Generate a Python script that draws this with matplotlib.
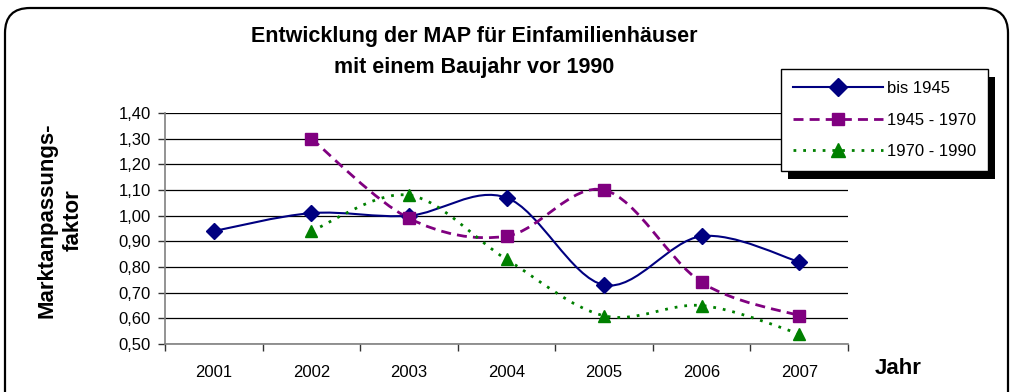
import matplotlib
matplotlib.use("Agg")
import matplotlib.pyplot as plt
from matplotlib.lines import Line2D
from matplotlib.patches import FancyBboxPatch, PathPatch, Rectangle
from matplotlib.path import Path
from matplotlib.transforms import IdentityTransform

plt.rcParams["font.family"] = ["Liberation Sans", "DejaVu Sans"]

years = ["2001", "2002", "2003", "2004", "2005", "2006", "2007"]
bis_1945 = [0.94, 1.01, 1.00, 1.07, 0.73, 0.92, 0.82]
von_1945_1970 = [None, 1.30, 0.99, 0.92, 1.10, 0.74, 0.61]
von_1970_1990 = [None, 0.94, 1.08, 0.83, 0.61, 0.65, 0.54]
y_ticks = [0.50, 0.60, 0.70, 0.80, 0.90, 1.00, 1.10, 1.20, 1.30, 1.40]

# label, values, colour, linestyle, linewidth, marker, markersize
series = [
    ("bis 1945", bis_1945, "#000080", "-", 1.5, "D", 8),
    ("1945 - 1970", von_1945_1970, "#800080", (0, (3.6, 2.2)), 2.0, "s", 8),
    ("1970 - 1990", von_1970_1990, "#008000", (0, (1.0, 2.5)), 2.0, "^", 9),
]


def smooth_path(xs, ys):
    # Catmull-Rom style Bezier segments, like a spreadsheet "smoothed line"
    pts = list(zip(xs, ys))
    verts = [pts[0]]
    codes = [Path.MOVETO]
    n = len(pts)
    for i in range(n - 1):
        p0 = pts[max(i - 1, 0)]
        p1 = pts[i]
        p2 = pts[i + 1]
        p3 = pts[min(i + 2, n - 1)]
        c1 = (p1[0] + (p2[0] - p0[0]) / 6, p1[1] + (p2[1] - p0[1]) / 6)
        c2 = (p2[0] - (p3[0] - p1[0]) / 6, p2[1] - (p3[1] - p1[1]) / 6)
        verts += [c1, c2, p2]
        codes += [Path.CURVE4] * 3
    return Path(verts, codes)


fig = plt.figure(figsize=(10.11, 3.92), dpi=100)
fig.patch.set_facecolor("white")

# rounded frame around the whole chart
frame = FancyBboxPatch((0.05, -0.5), 10.03, 4.34,
                       boxstyle="round,pad=0,rounding_size=0.25",
                       transform=fig.dpi_scale_trans, fill=False,
                       edgecolor="black", linewidth=1.6)
fig.add_artist(frame)

ax = fig.add_axes([0.1632, 0.1224, 0.6756, 0.5893])
ax.set_xlim(-0.5, len(years) - 0.5)
ax.set_ylim(0.50, 1.40)

ax.set_yticks(y_ticks)
ax.set_yticklabels([f"{v:.2f}".replace(".", ",") for v in y_ticks], fontsize=12)
ax.yaxis.grid(True, color="black", linewidth=0.9)
ax.set_axisbelow(True)

ax.set_xticks(range(len(years)))
ax.set_xticklabels(years, fontsize=12)
ax.set_xticks([i - 0.5 for i in range(len(years) + 1)], minor=True)
ax.tick_params(axis="x", which="major", length=0, pad=15)
ax.tick_params(axis="x", which="minor", length=5, width=1, color="#333333", direction="out")
ax.tick_params(axis="y", length=5, width=1, color="#333333", pad=5)

for side in ("top", "right"):
    ax.spines[side].set_visible(False)
for side in ("left", "bottom"):
    ax.spines[side].set_color("#808080")
    ax.spines[side].set_linewidth(1.2)

handles = []
for label, vals, color, ls, lw, marker, ms in series:
    xs = [i for i, v in enumerate(vals) if v is not None]
    ys = [v for v in vals if v is not None]
    ax.add_patch(PathPatch(smooth_path(xs, ys), fill=False, edgecolor=color,
                           linewidth=lw, linestyle=ls, capstyle="butt", zorder=3))
    ax.plot(xs, ys, linestyle="none", marker=marker, markersize=ms,
            color=color, markeredgecolor=color, zorder=4, clip_on=False)
    handles.append(Line2D([], [], color=color, linestyle=ls, linewidth=lw,
                          marker=marker, markersize=ms + 1, markeredgecolor=color))

leg = fig.legend(handles=handles, labels=[s[0] for s in series],
                 loc="upper left", bbox_to_anchor=(0.7725, 0.824, 0.2049, 0.0),
                 mode="expand", frameon=True, fancybox=False, framealpha=1,
                 fontsize=12, handlelength=5.4, handletextpad=0.25,
                 labelspacing=1.0, borderpad=0.72, borderaxespad=0)
leg.get_frame().set_edgecolor("black")
leg.get_frame().set_linewidth(1.0)
leg.set_zorder(6)

fig.text(0.469, 0.908, "Entwicklung der MAP für Einfamilienhäuser",
         ha="center", va="center", fontsize=15.5, fontweight="bold")
fig.text(0.469, 0.827, "mit einem Baujahr vor 1990",
         ha="center", va="center", fontsize=15.5, fontweight="bold")
fig.text(0.0595, 0.439, "Marktanpassungs-\nfaktor", rotation=90,
         ha="center", va="center", fontsize=16, fontweight="bold",
         multialignment="center", linespacing=1.3)
fig.text(0.865, 0.061, "Jahr", ha="left", va="center",
         fontsize=16, fontweight="bold")

# solid drop shadow behind the legend box
fig.canvas.draw()
bb = leg.get_window_extent()
shadow = Rectangle((bb.x0 + 7, bb.y0 - 8), bb.width, bb.height,
                   transform=IdentityTransform(), facecolor="black",
                   edgecolor="none", zorder=5)
fig.add_artist(shadow)

fig.savefig("out.png", dpi=100, facecolor="white")
